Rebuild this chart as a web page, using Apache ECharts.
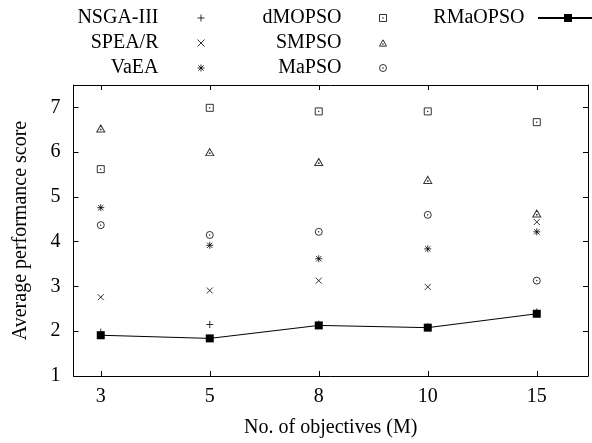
<!DOCTYPE html>
<html>
<head>
<meta charset="utf-8">
<script src="https://cdn.jsdelivr.net/npm/echarts@6/dist/echarts.min.js"></script>
<style>
  html, body { margin: 0; padding: 0; background: #fff; }
  #chart { width: 592px; height: 443px; }
</style>
</head>
<body>
<div id="chart"></div>
<script>
// Number of objectives (categorical positions along x)
const objectives = ['3', '5', '8', '10', '15'];

// Average performance score per algorithm
const nsga3   = [1.98, 2.15, 2.16, 2.10, 2.43];
const speaR   = [2.76, 2.91, 3.13, 2.99, 4.44];
const vaea    = [4.76, 3.92, 3.62, 3.84, 4.22];
const dmopso  = [5.62, 6.99, 6.91, 6.91, 6.67];
const smpso   = [6.53, 6.00, 5.78, 5.38, 4.63];
const mapso   = [4.37, 4.15, 4.22, 4.60, 3.13];
const rmaopso = [1.91, 1.84, 2.13, 2.08, 2.39];

const yTicks = [1, 2, 3, 4, 5, 6, 7];

const FONT = 'Liberation Serif';
const FS = 20;

// gnuplot-like point glyphs
const SYM = {
  plus: 'path://M0,5L10,5M5,0L5,10',
  cross: 'path://M0,0L10,10M0,10L10,0',
  star: 'path://M0,5L10,5M5,0L5,10M1.2,1.2L8.8,8.8M1.2,8.8L8.8,1.2',
  boxDot: 'path://M0,0L10,0L10,10L0,10ZM4.6,4.6L5.4,4.6L5.4,5.4L4.6,5.4Z',
  triDot: 'path://M5,0L10,9L0,9ZM4.6,5.6L5.4,5.6L5.4,6.4L4.6,6.4Z',
  circDot: 'path://M0,5A5,5 0 1 1 10,5A5,5 0 1 1 0,5ZM4.6,4.6L5.4,4.6L5.4,5.4L4.6,5.4Z'
};

const pts = arr => arr.map((v, i) => [i, v]);

const hollow = { color: 'rgba(0,0,0,0)', borderColor: '#000', borderWidth: 1 };

function scatter(name, arr, symbol, size) {
  return {
    name, type: 'scatter', data: pts(arr), symbol, symbolSize: size,
    itemStyle: hollow, emphasis: { disabled: true }
  };
}

// One key column: right-aligned names with the sample to their right
function legendCol(left, names, icons, padRight, itemWidth, itemHeight) {
  return {
    orient: 'vertical', align: 'right', left, top: 8, padding: 0,
    itemWidth, itemHeight, itemGap: 5,
    data: names.map((n, i) => icons[i] ? { name: n, icon: icons[i], itemStyle: hollow } : { name: n }),
    formatter: '{t|{name}}',
    textStyle: {
      color: '#000', fontFamily: FONT, fontSize: FS,
      rich: { t: { width: 120, align: 'right', lineHeight: 20, padding: [0, padRight, 0, 0], fontFamily: FONT, fontSize: FS, color: '#000' } }
    },
    selectedMode: false
  };
}

const chart = echarts.init(document.getElementById('chart'), null, { renderer: 'canvas' });

const axisLine = { show: true, onZero: false, lineStyle: { color: '#000', width: 1 } };
const xTickVals = [0, 1, 2, 3, 4];

chart.setOption({
  animation: false,
  backgroundColor: '#fff',
  grid: { left: 73.5, right: 4, top: 85, bottom: 66.3 },
  legend: [
    legendCol(38.5, ['NSGA-III', 'SPEA/R', 'VaEA'], [SYM.plus, SYM.cross, SYM.star], 34, 7, 7),
    legendCol(221.5, ['dMOPSO', 'SMPSO', 'MaPSO'], [SYM.boxDot, SYM.triDot, SYM.circDot], 33, 7, 7),
    legendCol(404.5, ['RMaOPSO'], [null], 8.5, 60, 10)
  ],
  xAxis: [
    {
      type: 'value', min: -0.25, max: 4.47, position: 'bottom',
      axisLine,
      axisTick: { show: true, inside: true, length: 5, customValues: xTickVals, lineStyle: { color: '#000' } },
      axisLabel: {
        customValues: xTickVals,
        formatter: v => objectives[v],
        color: '#000', fontFamily: FONT, fontSize: FS, margin: 11
      },
      splitLine: { show: false },
      name: 'No. of objectives (M)', nameLocation: 'middle', nameGap: 42,
      nameTextStyle: { color: '#000', fontFamily: FONT, fontSize: FS }
    },
    {
      type: 'value', min: -0.25, max: 4.47, position: 'top',
      axisLine,
      axisTick: { show: true, inside: true, length: 5, customValues: xTickVals, lineStyle: { color: '#000' } },
      axisLabel: { show: false },
      splitLine: { show: false }
    }
  ],
  yAxis: [
    {
      type: 'value', min: 1, max: 7.5, interval: 1, position: 'left',
      axisLine,
      axisTick: { show: true, inside: true, length: 5, customValues: yTicks, lineStyle: { color: '#000' } },
      axisLabel: { customValues: yTicks, color: '#000', fontFamily: FONT, fontSize: FS, margin: 13 },
      splitLine: { show: false },
      name: 'Average performance score', nameLocation: 'middle', nameGap: 43, nameRotate: 90,
      nameTextStyle: { color: '#000', fontFamily: FONT, fontSize: FS }
    },
    {
      type: 'value', min: 1, max: 7.5, interval: 1, position: 'right',
      axisLine,
      axisTick: { show: true, inside: true, length: 5, customValues: yTicks, lineStyle: { color: '#000' } },
      axisLabel: { show: false },
      splitLine: { show: false }
    }
  ],
  series: [
    scatter('NSGA-III', nsga3, SYM.plus, 7),
    scatter('SPEA/R', speaR, SYM.cross, 6),
    scatter('VaEA', vaea, SYM.star, 7),
    scatter('dMOPSO', dmopso, SYM.boxDot, 7),
    scatter('SMPSO', smpso, SYM.triDot, [8, 7]),
    scatter('MaPSO', mapso, SYM.circDot, 7),
    {
      name: 'RMaOPSO', type: 'line', data: pts(rmaopso),
      symbol: 'rect', symbolSize: 8, showAllSymbol: true,
      itemStyle: { color: '#000' },
      lineStyle: { color: '#000', width: 1 },
      emphasis: { disabled: true }
    }
  ]
});
</script>
</body>
</html>
